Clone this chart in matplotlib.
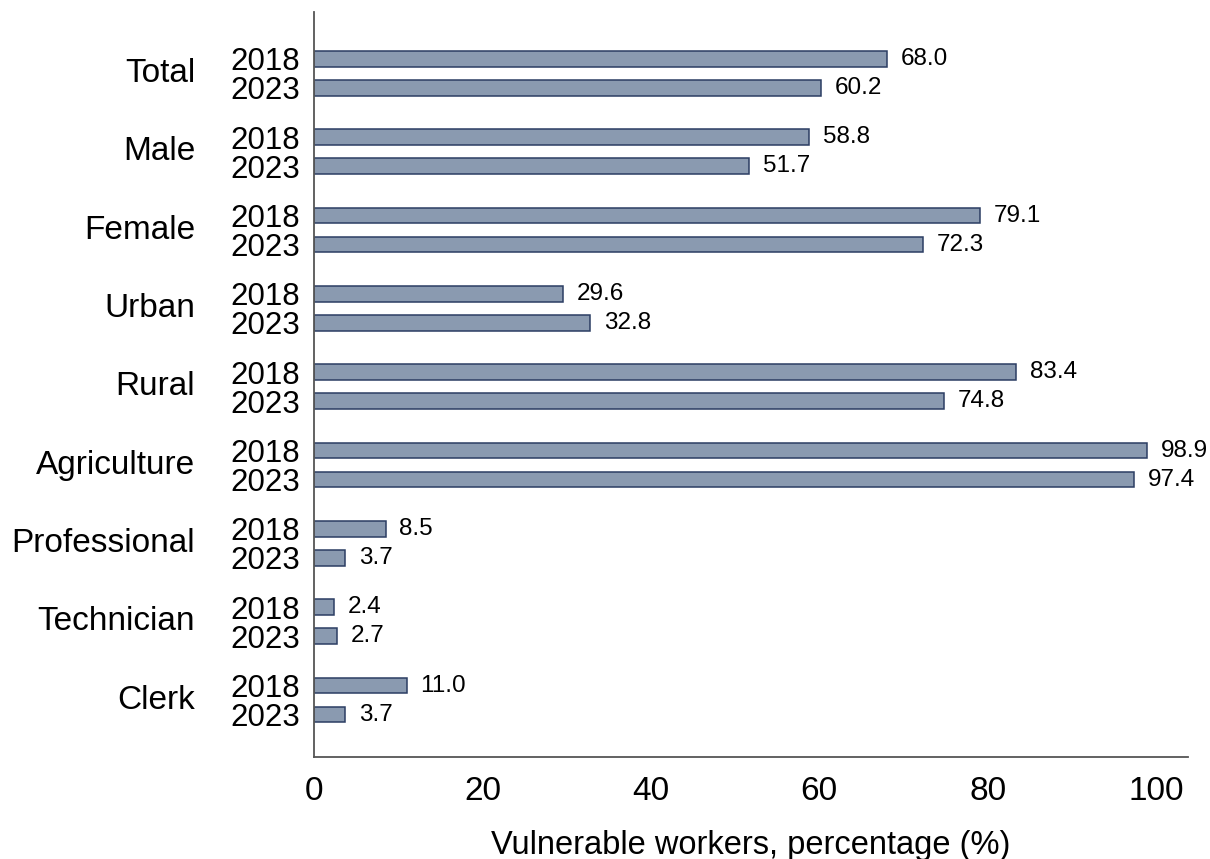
import matplotlib
matplotlib.use("Agg")
import matplotlib.pyplot as plt
import matplotlib.transforms as mtransforms
import numpy as np

plt.rcParams['font.family'] = ['Liberation Sans', 'DejaVu Sans']

categories = ["Total", "Male", "Female", "Urban", "Rural", "Agriculture",
              "Professional", "Technician", "Clerk"]
years = ["2018", "2023"]
values_2018 = [68.0, 58.8, 79.1, 29.6, 83.4, 98.9, 8.5, 2.4, 11.0]
values_2023 = [60.2, 51.7, 72.3, 32.8, 74.8, 97.4, 3.7, 2.7, 3.7]
xticks = [0, 20, 40, 60, 80, 100]
xlabel = "Vulnerable workers, percentage (%)"

fill = "#8a9ab0"
edge = "#2b3d63"

fig = plt.figure(figsize=(12.10, 8.59), dpi=100)
ax = fig.add_axes([0.2595, 0.1187, 0.7223, 0.8673])

n = len(categories)
centers = np.arange(n)
offset = 0.185
bar_h = 0.20

y18 = centers - offset
y23 = centers + offset
ax.barh(y18, values_2018, height=bar_h, color=fill, edgecolor=edge, linewidth=1.1)
ax.barh(y23, values_2023, height=bar_h, color=fill, edgecolor=edge, linewidth=1.1)

for y, v in list(zip(y18, values_2018)) + list(zip(y23, values_2023)):
    ax.annotate(f"{v:.1f}", xy=(v, y), xytext=(10, 0), textcoords="offset points",
                ha="left", va="center", fontsize=17.5, color="black")

ax.set_xlim(0, 103.8)
ax.set_ylim(n - 1 + 0.726, -0.783)

ytick_pos = np.concatenate([y18, y23])
ytick_lab = [years[0]] * n + [years[1]] * n
ax.set_yticks(ytick_pos)
ax.set_yticklabels(ytick_lab, fontsize=22.5)
ax.tick_params(axis="y", length=0, pad=10)

trans = mtransforms.blended_transform_factory(ax.transAxes, ax.transData)
for c, name in zip(centers, categories):
    ax.text(-0.136, c, name, transform=trans, ha="right", va="center", fontsize=24)

ax.set_xticks(xticks)
ax.set_xticklabels([str(t) for t in xticks], fontsize=24)
ax.tick_params(axis="x", length=0, pad=14)
ax.set_xlabel(xlabel, fontsize=23.5, labelpad=16)

for side in ("top", "right"):
    ax.spines[side].set_visible(False)
for side in ("left", "bottom"):
    ax.spines[side].set_color("#555555")
    ax.spines[side].set_linewidth(1.3)

fig.savefig("out.png", dpi=100)
